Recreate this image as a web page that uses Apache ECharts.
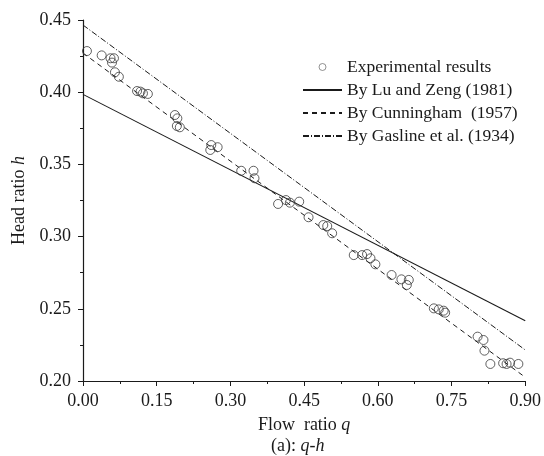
<!DOCTYPE html>
<html>
<head>
<meta charset="utf-8">
<script src="https://cdn.jsdelivr.net/npm/echarts@6/dist/echarts.min.js"></script>
<style>
  html, body { margin: 0; padding: 0; background: #fff; }
  #main { width: 544px; height: 456px; }
</style>
</head>
<body>
<div id="main"></div>
<script>
// experimental points (q, h)
var qExp = [0.008, 0.038, 0.056, 0.063, 0.059, 0.065, 0.073, 0.110, 0.117, 0.122,
            0.132, 0.187, 0.192, 0.191, 0.197, 0.261, 0.274, 0.259, 0.322, 0.347,
            0.349, 0.397, 0.413, 0.421, 0.440, 0.459, 0.489, 0.497, 0.507, 0.551,
            0.568, 0.578, 0.585, 0.595, 0.628, 0.648, 0.663, 0.659, 0.714, 0.724,
            0.734, 0.737, 0.803, 0.815, 0.817, 0.829, 0.855, 0.862, 0.869, 0.886];
var hExp = [0.4285, 0.4255, 0.4235, 0.4235, 0.4205, 0.4138, 0.4107, 0.4008, 0.4004, 0.3992,
            0.3988, 0.3842, 0.3819, 0.3766, 0.3757, 0.3634, 0.3619, 0.3600, 0.3456, 0.3456,
            0.3404, 0.3226, 0.3253, 0.3235, 0.3242, 0.3134, 0.3080, 0.3073, 0.3023, 0.2872,
            0.2872, 0.2879, 0.2850, 0.2808, 0.2734, 0.2704, 0.2700, 0.2665, 0.2503, 0.2496,
            0.2487, 0.2473, 0.2307, 0.2284, 0.2210, 0.2118, 0.2123, 0.2118, 0.2127, 0.2118];

// the three formula lines, end points read at q = 0 and q = 0.90
var qLine = [0, 0.9];
var hLuZeng = [0.3985, 0.2418];
var hCunningham = [0.4271, 0.2026];
var hGasline = [0.4465, 0.2215];

var xTicks = { min: 0, max: 0.9, step: 0.15 };
var yTicks = { min: 0.2, max: 0.45, step: 0.05 };

var names = ['Experimental results', 'By Lu and Zeng (1981)', 'By Cunningham  (1957)', 'By Gasline et al. (1934)'];

function pairs(xs, ys) {
    var out = [];
    for (var i = 0; i < xs.length; i++) out.push([xs[i], ys[i]]);
    return out;
}

var font = 'Liberation Serif';
var ink = '#1a1a1a';
// hides the marker the legend puts on a line item, the stroke stays
var noMarker = { opacity: 0 };

var chart = echarts.init(document.getElementById('main'), null, { renderer: 'canvas' });
chart.setOption({
    animation: false,
    backgroundColor: '#fff',
    grid: { left: 83, right: 17, top: 20, bottom: 75 },
    legend: {
        orient: 'vertical',
        left: 297,
        top: 53,
        itemWidth: 39,
        itemHeight: 7,
        itemGap: 5,
        data: [
            { name: names[0], itemStyle: { borderColor: '#555', borderWidth: 0.8 } },
            { name: names[1], itemStyle: noMarker },
            { name: names[2], itemStyle: noMarker },
            { name: names[3], itemStyle: noMarker }
        ],
        textStyle: { fontFamily: font, fontSize: 17.5, color: ink }
    },
    xAxis: {
        type: 'value',
        min: xTicks.min, max: xTicks.max, interval: xTicks.step,
        name: 'Flow  ratio {i|q}',
        nameLocation: 'middle',
        nameGap: 35,
        nameTextStyle: {
            fontFamily: font, fontSize: 18, color: ink,
            rich: { i: { fontFamily: font, fontSize: 18, fontStyle: 'italic', color: ink } }
        },
        axisLine: { lineStyle: { color: ink, width: 1.2 } },
        axisTick: { length: 5, lineStyle: { color: ink } },
        minorTick: { show: true, splitNumber: 2, length: 3, lineStyle: { color: ink } },
        splitLine: { show: false },
        axisLabel: {
            margin: 11, fontFamily: font, fontSize: 18, color: ink,
            formatter: function (v) { return v.toFixed(2); }
        }
    },
    yAxis: {
        type: 'value',
        min: yTicks.min, max: yTicks.max, interval: yTicks.step,
        name: 'Head ratio {i|h}',
        nameLocation: 'middle',
        nameGap: 55,
        nameTextStyle: {
            fontFamily: font, fontSize: 18, color: ink,
            rich: { i: { fontFamily: font, fontSize: 18, fontStyle: 'italic', color: ink } }
        },
        axisLine: { show: true, lineStyle: { color: ink, width: 1.2 } },
        axisTick: { show: true, length: 5, lineStyle: { color: ink } },
        minorTick: { show: true, splitNumber: 2, length: 3, lineStyle: { color: ink } },
        splitLine: { show: false },
        axisLabel: {
            margin: 12, fontFamily: font, fontSize: 18, color: ink,
            formatter: function (v) { return v.toFixed(2); }
        }
    },
    graphic: [{
        type: 'text',
        left: 271,
        top: 437,
        style: {
            text: '(a): {i|q-h}',
            fontFamily: font, fontSize: 18, fill: ink,
            rich: { i: { fontFamily: font, fontSize: 18, fontStyle: 'italic', fill: ink } }
        }
    }],
    series: [
        {
            name: names[0],
            type: 'scatter',
            symbol: 'circle',
            symbolSize: 9,
            itemStyle: { color: 'rgba(0,0,0,0)', borderColor: '#3a3a3a', borderWidth: 1 },
            data: pairs(qExp, hExp),
            z: 3
        },
        {
            name: names[1],
            type: 'line',
            symbol: 'none',
            lineStyle: { color: ink, width: 1.1, type: 'solid' },
            itemStyle: { color: ink },
            data: pairs(qLine, hLuZeng)
        },
        {
            name: names[2],
            type: 'line',
            symbol: 'none',
            lineStyle: { color: ink, width: 1, type: [5, 4] },
            itemStyle: { color: ink },
            data: pairs(qLine, hCunningham)
        },
        {
            name: names[3],
            type: 'line',
            symbol: 'none',
            lineStyle: { color: ink, width: 1, type: [6, 2, 1, 2] },
            itemStyle: { color: ink },
            data: pairs(qLine, hGasline)
        }
    ]
});
</script>
</body>
</html>
